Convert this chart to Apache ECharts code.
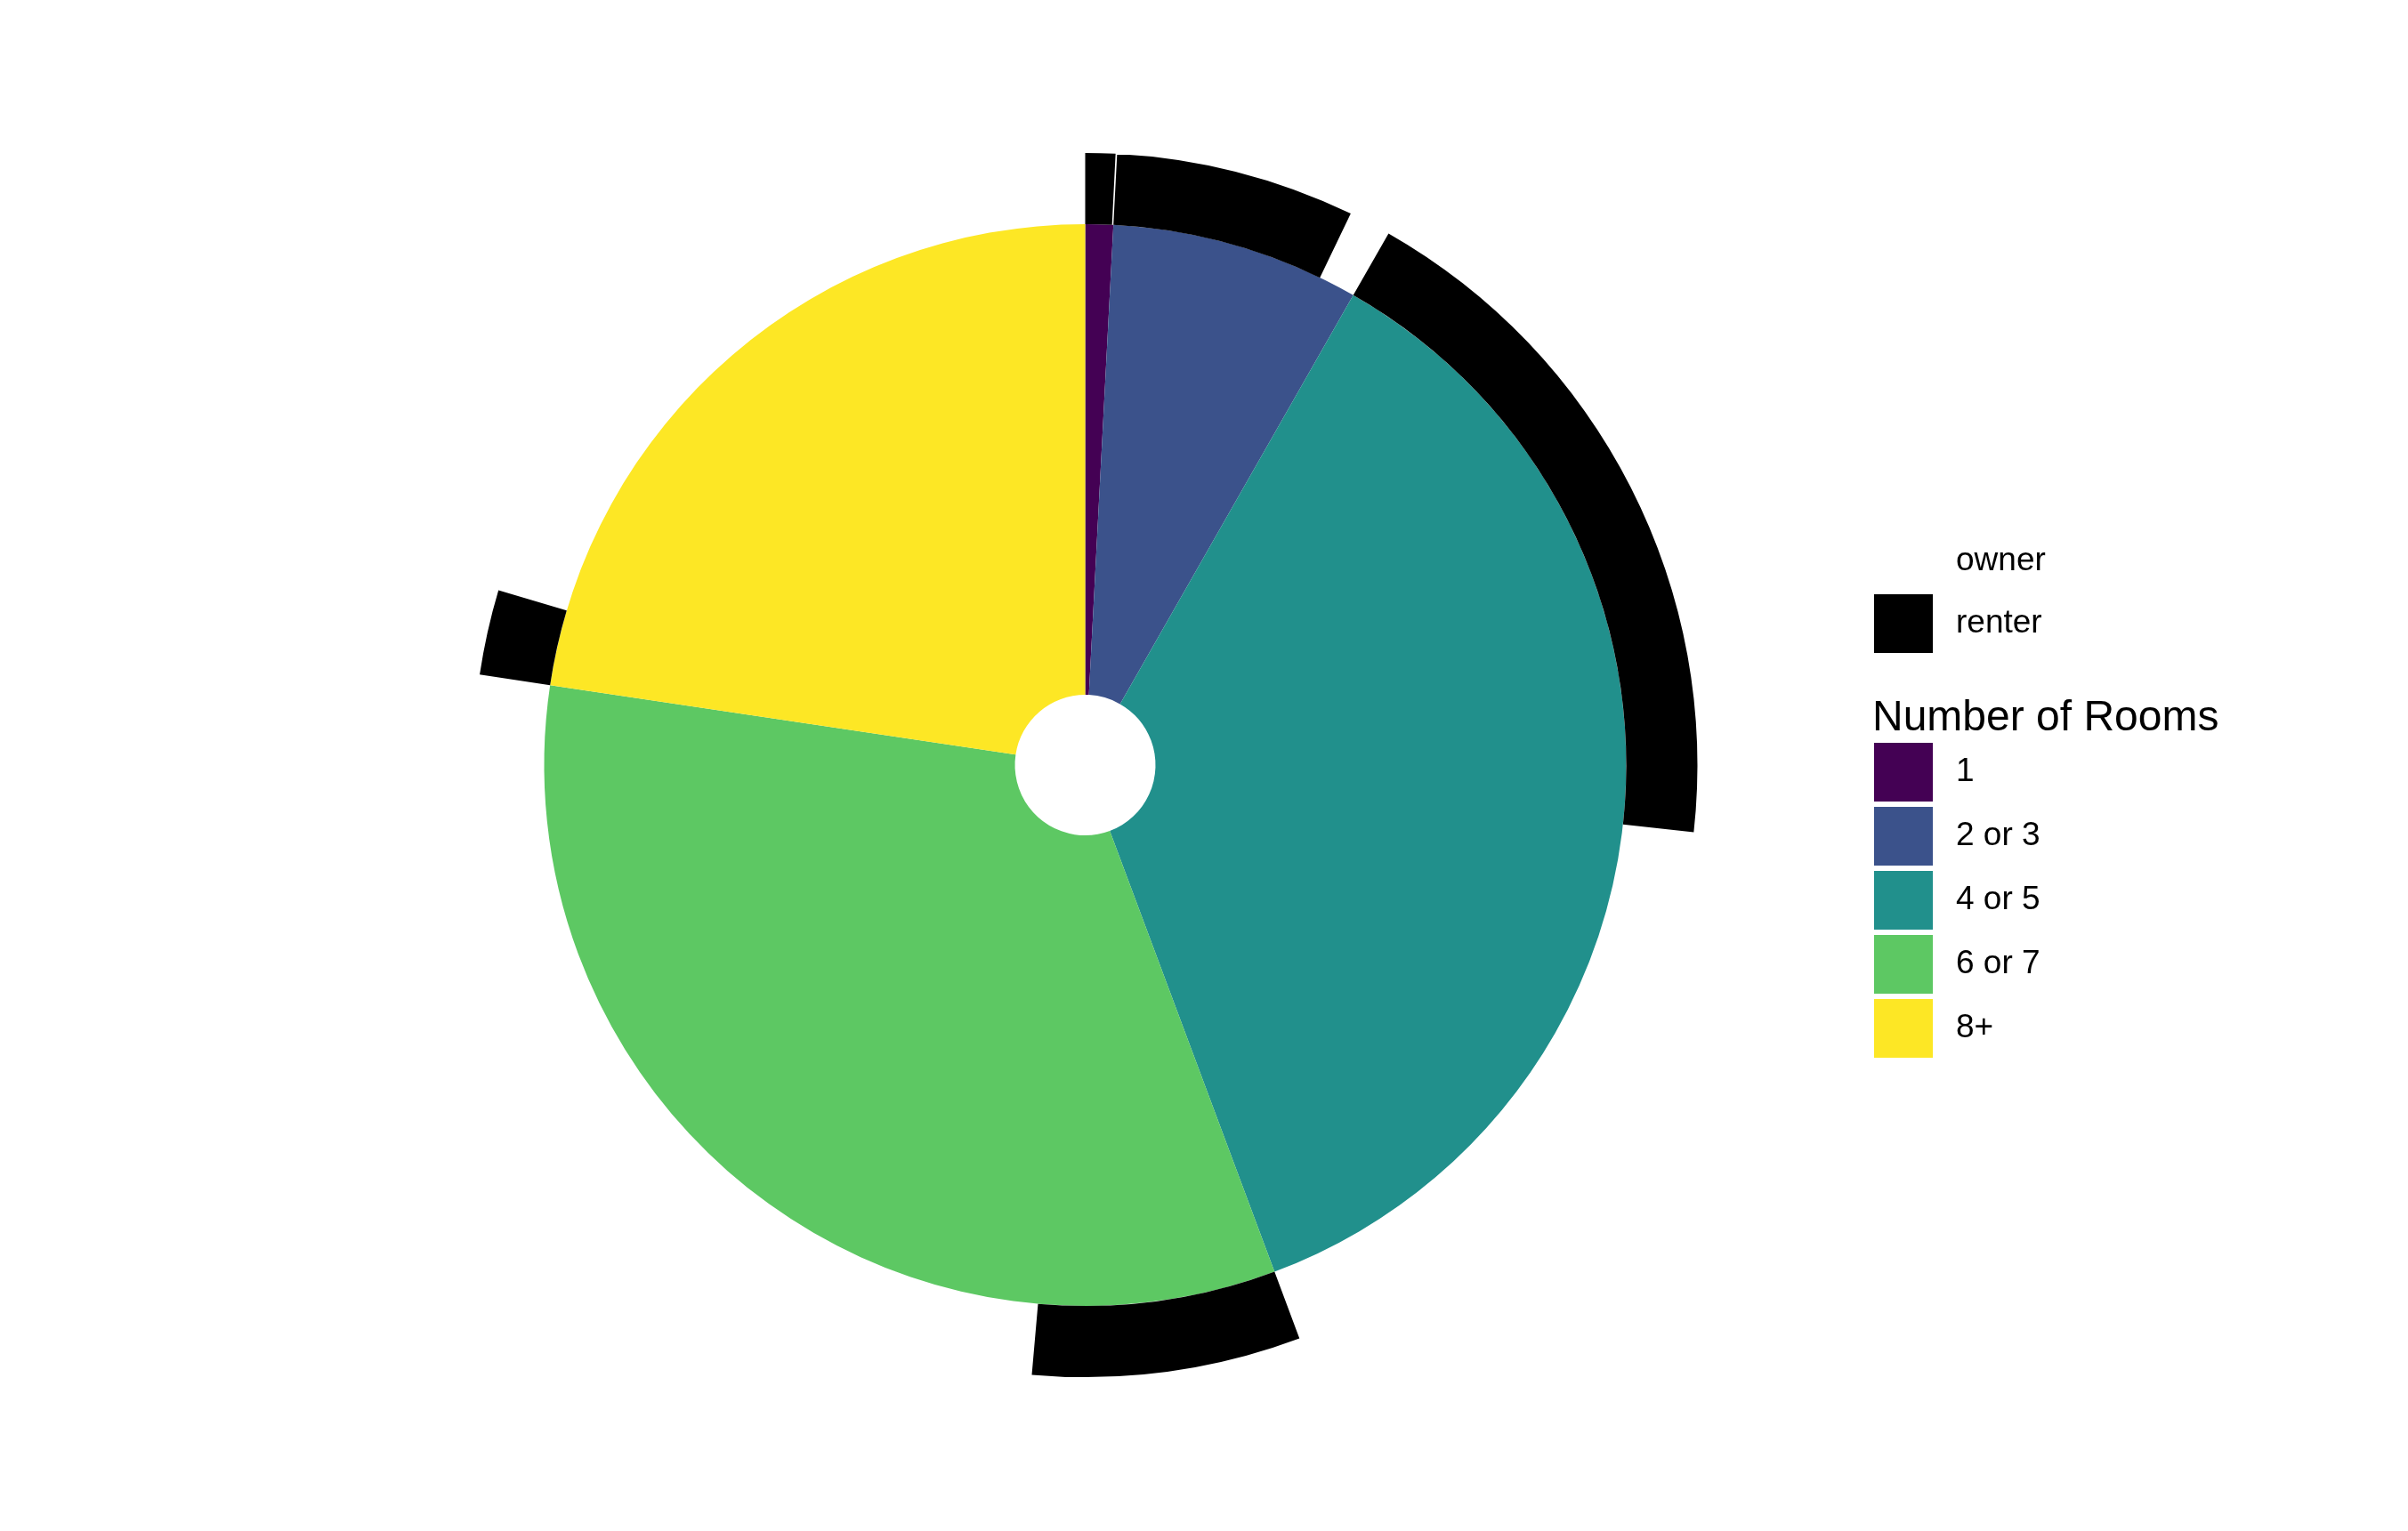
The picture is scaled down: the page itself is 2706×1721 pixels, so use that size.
<!DOCTYPE html>
<html>
<head>
<meta charset="utf-8">
<script src="https://cdn.jsdelivr.net/npm/echarts@6/dist/echarts.min.js"></script>
<style>
html,body{margin:0;padding:0;background:#fff;}
#chart{width:2706px;height:1721px;}
</style>
</head>
<body>
<div id="chart"></div>
<script>
// Data (percent of households)
const roomCategories = ['1', '2 or 3', '4 or 5', '6 or 7', '8+'];
const renterShare = [0.79, 6.31, 18.50, 7.08, 2.25];
const ownerShare  = [0.04, 1.11, 17.56, 25.97, 20.39];
const tenureLabels = ['owner', 'renter'];
const roomColors = ['#440154', '#3B528B', '#21908C', '#5DC863', '#FDE725'];

const innerData = roomCategories.map((c, i) => ({
  name: c,
  value: renterShare[i] + ownerShare[i],
  itemStyle: { color: roomColors[i] }
}));
const outerData = [];
roomCategories.forEach((c, i) => {
  outerData.push({ name: 'renter', value: renterShare[i], itemStyle: { color: '#000000' } });
  outerData.push({ name: 'owner', value: ownerShare[i], itemStyle: { color: 'rgba(255,255,255,0)' } });
});

const chart = echarts.init(document.getElementById('chart'), null, { renderer: 'canvas' });
const font = 'Liberation Sans, Arial, sans-serif';
chart.setOption({
  animation: false,
  backgroundColor: '#ffffff',
  title: {
    text: 'Number of Rooms',
    left: 2104,
    top: 784,
    padding: 0,
    textStyle: { fontFamily: font, fontSize: 48, fontWeight: 'normal', color: '#000' }
  },
  legend: [
    {
      data: tenureLabels,
      orient: 'vertical',
      left: 2106,
      top: 598,
      padding: 0,
      itemWidth: 66,
      itemHeight: 66,
      itemGap: 4,
      icon: 'rect',
      selectedMode: false,
      textStyle: { fontFamily: font, fontSize: 37, color: '#000', padding: [0, 0, 0, 21] }
    },
    {
      data: roomCategories,
      orient: 'vertical',
      left: 2106,
      top: 835,
      padding: 0,
      itemWidth: 66,
      itemHeight: 66,
      itemGap: 6,
      icon: 'rect',
      selectedMode: false,
      textStyle: { fontFamily: font, fontSize: 37, color: '#000', padding: [0, 0, 0, 21] }
    }
  ],
  series: [
    {
      type: 'pie',
      center: [1219.5, 860],
      radius: [79, 608],
      startAngle: 90,
      clockwise: true,
      label: { show: false },
      labelLine: { show: false },
      itemStyle: { borderWidth: 0 },
      emphasis: { disabled: true },
      data: innerData
    },
    {
      type: 'pie',
      center: [1219.5, 860],
      radius: [608, 688],
      startAngle: 90,
      clockwise: true,
      label: { show: false },
      labelLine: { show: false },
      itemStyle: { borderWidth: 0 },
      emphasis: { disabled: true },
      data: outerData
    }
  ]
});
</script>
</body>
</html>
